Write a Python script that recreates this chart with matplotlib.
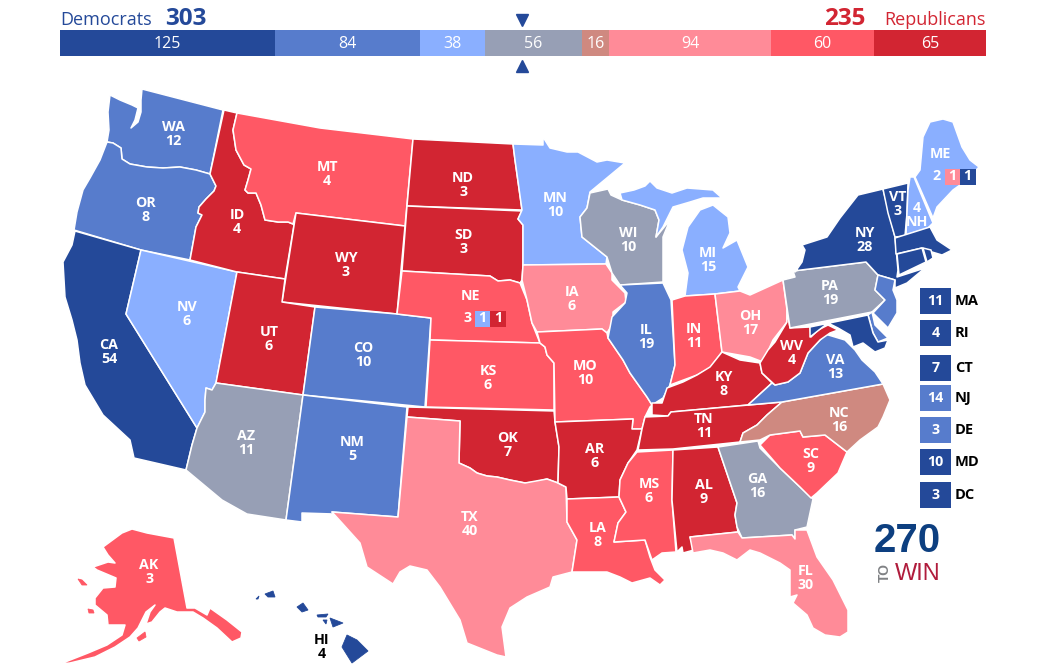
import matplotlib
matplotlib.use("Agg")
import matplotlib.pyplot as plt
from matplotlib.patches import Polygon, Rectangle

plt.rcParams['font.family'] = ['Open Sans', 'DejaVu Sans']

# ---- data ----
bar_values = [125, 84, 38, 56, 16, 94, 60, 65]
bar_ratings = ['safe_d', 'likely_d', 'lean_d', 'tossup', 'tilt_r', 'lean_r', 'likely_r', 'safe_r']
dem_total = 303
rep_total = 235
total_votes = 538

rating_colors = {'safe_d': '#244999', 'likely_d': '#577ccc', 'lean_d': '#8aafff', 'tossup': '#979fb5',
                 'tilt_r': '#cf8980', 'lean_r': '#ff8b98', 'likely_r': '#ff5865', 'safe_r': '#d22532'}

state_rating = {
 'WA':'likely_d','OR':'likely_d','CA':'safe_d','NV':'lean_d','ID':'safe_r','MT':'likely_r','WY':'safe_r','UT':'safe_r',
 'CO':'likely_d','AZ':'tossup','NM':'likely_d','ND':'safe_r','SD':'safe_r','NE':'likely_r','KS':'likely_r','OK':'safe_r',
 'TX':'lean_r','MN':'lean_d','IA':'lean_r','MO':'likely_r','AR':'safe_r','LA':'likely_r','WI':'tossup','IL':'likely_d',
 'MI':'lean_d','IN':'likely_r','OH':'lean_r','KY':'safe_r','TN':'safe_r','MS':'likely_r','AL':'safe_r','GA':'tossup',
 'FL':'lean_r','SC':'likely_r','NC':'tilt_r','VA':'likely_d','WV':'safe_r','PA':'tossup','NY':'safe_d','VT':'safe_d',
 'NH':'lean_d','ME':'lean_d','AK':'likely_r','HI':'safe_d','MD':'safe_d','DE':'likely_d','NJ':'likely_d','MA':'safe_d',
 'CT':'safe_d','RI':'safe_d'}

state_votes = {
 'WA':12,'OR':8,'CA':54,'NV':6,'ID':4,'MT':4,'WY':3,'UT':6,'CO':10,'AZ':11,'NM':5,'ND':3,'SD':3,'KS':6,'OK':7,'TX':40,
 'MN':10,'IA':6,'MO':10,'AR':6,'LA':8,'WI':10,'IL':19,'MI':15,'IN':11,'OH':17,'KY':8,'TN':11,'MS':6,'AL':9,'GA':16,
 'FL':30,'SC':9,'NC':16,'VA':13,'WV':4,'PA':19,'NY':28,'VT':3}

side_states = ['MA', 'RI', 'CT', 'NJ', 'DE', 'MD', 'DC']
side_votes = [11, 4, 7, 14, 3, 10, 3]
side_ratings = ['safe_d', 'safe_d', 'safe_d', 'likely_d', 'likely_d', 'safe_d', 'safe_d']

# state outlines (map geometry)
outlines = {
 'WA':[[(142,89),(223,110),(210,174),(196,170),(180,167),(163,168),(147,167),(130,164),(122,159),(121,148),(113,143),(107,142),(109,130),(108,112),(110,95),(120,100),(132,105),(138,108),(135,120),(131,128),(138,122),(141,112),(141,100)]],
 'OR':[[(107,142),(113,143),(121,148),(122,159),(130,164),(147,167),(163,168),(180,167),(196,170),(210,174),(216,186),(214,191),(206,199),(199,207),(198,213),(202,215),(196,227),(190,260),(141,250),(74,230),(77,212),(83,190),(90,178),(100,160)]],
 'CA':[[(75,231),(141,250),(126,314),(197,428),(192,445),(186,470),(134,458),(130,440),(103,415),(85,385),(80,363),(77,340),(72,320),(65,297),(63,262),(72,245)]],
 'NV':[[(141,250),(237,272),(216,383),(212,390),(206,388),(205,400),(205,412),(197,428),(126,314)]],
 'ID':[[(224,110),(237,113),(233,130),(236,150),(244,165),(251,169),(248,180),(245,190),(248,193),(256,193),(261,205),(265,220),(278,222),(288,222),(293,224),(296,213),(285,279),(237,272),(190,260),(196,227),(202,215),(198,213),(199,207),(206,199),(214,191),(216,186),(210,174)]],
 'MT':[[(237,113),(320,128),(413,139),(405,226),(296,213),(293,224),(288,222),(278,222),(265,220),(261,205),(256,193),(248,193),(245,190),(248,180),(251,169),(244,165),(236,150),(233,130)]],
 'WY':[[(296,213),(405,226),(397,314),(282,302)]],
 'UT':[[(237,272),(285,279),(282,302),(315,307),(303,395),(216,383)]],
 'CO':[[(315,307),(397,314),(431,318),(425,407),(303,395)]],
 'AZ':[[(216,383),(303,395),(286,520),(247,514),(222,500),(186,470),(192,445),(197,428),(205,412),(205,400),(206,388),(212,390)]],
 'NM':[[(303,395),(407,407),(398,517),(332,512),(334,514),(302,513),(302,522),(286,520)]],
 'ND':[[(413,139),(513,144),(515,160),(522,210),(407,206)]],
 'SD':[[(407,206),(522,211),(518,219),(523,225),(523,265),(522,280),(520,283),(510,280),(498,281),(490,276),(402,271)]],
 'NE':[[(402,271),(490,276),(498,281),(510,280),(520,283),(527,300),(532,323),(540,343),(430,340),(431,318),(397,314)]],
 'KS':[[(430,340),(540,343),(545,347),(547,355),(554,363),(554,410),(426,407)]],
 'OK':[[(408,407),(554,411),(555,422),(559,447),(558,483),(547,479),(535,482),(525,483),(510,480),(497,477),(487,476),(477,473),(470,468),(459,463),(460,421),(407,417)]],
 'TX':[[(407,417),(460,421),(459,463),(470,468),(477,473),(487,476),(497,477),(510,480),(525,483),(547,479),(558,483),(566,487),(567,522),(577,540),(572,572),(553,577),(550,587),(527,597),(510,608),(502,627),(506,657),(497,655),(467,643),(460,620),(440,587),(427,570),(410,566),(400,572),(393,584),(367,567),(360,543),(342,523),(332,512),(398,517)]],
 'MN':[[(513,144),(543,145),(543,137),(550,148),(567,152),(578,152),(597,162),(607,160),(625,163),(590,192),(587,208),(580,217),(582,237),(607,257),(606,264),(523,265),(523,225),(518,219),(522,210),(515,160)]],
 'IA':[[(523,265),(606,264),(612,273),(612,280),(625,293),(626,302),(613,312),(613,323),(607,333),(602,329),(537,332),(532,323),(527,300),(522,280)]],
 'MO':[[(537,332),(602,329),(607,333),(608,338),(623,360),(630,373),(647,397),(652,405),(650,407),(645,417),(642,429),(632,429),(633,419),(555,422),(554,363),(547,355),(545,347),(540,343)]],
 'AR':[[(555,422),(633,419),(632,429),(642,429),(637,450),(628,463),(620,480),(619,497),(567,499),(566,487),(558,483),(559,447)]],
 'LA':[[(567,499),(619,497),(626,512),(618,523),(614,542),(645,540),(650,557),(655,570),(665,580),(660,585),(650,578),(632,583),(620,577),(607,572),(577,572),(572,572),(577,540),(567,522)]],
 'WI':[[(590,193),(608,189),(611,195),(622,200),(640,205),(655,210),(659,220),(656,237),(670,220),(663,237),(663,282),(620,285),(612,273),(607,257),(582,237),(580,217),(587,208)]],
 'IL':[[(620,285),(663,283),(671,300),(675,365),(670,385),(663,398),(652,405),(647,397),(630,373),(623,360),(608,338),(612,317),(625,303),(627,293)]],
 'MI':[[(620,193),(634,190),(645,186),(650,181),(657,188),(672,193),(687,188),(713,190),(722,198),(703,198),(690,202),(673,207),(663,227),(656,237),(659,220),(655,210),(640,205),(622,200)],
       [(685,296),(688,273),(682,250),(688,227),(700,210),(713,205),(728,217),(730,233),(723,248),(737,240),(748,267),(738,287),(740,291),(715,294)]],
 'IN':[[(672,300),(685,296),(715,294),(722,352),(710,368),(697,375),(670,385),(675,365)]],
 'OH':[[(715,294),(740,291),(750,295),(783,280),(787,310),(787,322),(773,340),(763,362),(750,357),(722,352)]],
 'KY':[[(652,415),(652,403),(662,403),(667,388),(683,382),(697,375),(710,367),(722,352),(740,360),(760,363),(762,373),(772,383),(748,405),(671,412),(668,416)]],
 'TN':[[(638,450),(642,429),(645,417),(668,416),(671,412),(782,402),(767,415),(757,425),(743,433),(740,442),(673,449)]],
 'MS':[[(637,452),(673,450),(672,500),(676,552),(662,553),(652,560),(645,540),(614,542),(618,523),(626,512),(619,497),(620,480),(628,463)]],
 'AL':[[(673,450),(718,447),(737,503),(735,515),(738,532),(690,537),(694,550),(683,553),(682,547),(677,552),(672,500)]],
 'GA':[[(718,447),(758,441),(760,448),(780,468),(800,487),(813,499),(807,527),(795,530),(795,539),(792,535),(742,538),(737,527),(735,515),(737,503)]],
 'FL':[[(690,537),(738,532),(742,538),(792,535),(795,539),(795,530),(807,530),(817,557),(833,580),(848,610),(848,632),(840,637),(825,635),(813,628),(807,615),(793,603),(797,595),(790,597),(790,570),(780,563),(760,553),(750,550),(737,560),(723,553),(710,550),(693,553)]],
 'SC':[[(760,445),(770,435),(800,431),(803,437),(825,435),(847,452),(838,473),(817,493),(811,498),(800,487),(780,468)]],
 'NC':[[(740,442),(743,433),(757,425),(767,415),(782,402),(883,384),(890,400),(883,417),(878,427),(860,440),(847,452),(825,435),(803,437),(800,431),(770,435),(760,440)]],
 'VA':[[(748,405),(772,383),(775,385),(788,382),(800,373),(808,353),(820,340),(825,334),(845,340),(855,350),(862,360),(875,372),(883,384),(782,402)]],
 'WV':[[(787,310),(790,328),(810,327),(811,337),(818,330),(828,325),(838,330),(830,333),(820,340),(808,353),(800,373),(788,382),(775,385),(762,373),(760,363),(768,350),(775,342),(787,322)]],
 'PA':[[(783,280),(795,277),(793,271),(866,262),(878,275),(875,290),(885,300),(872,312),(790,328)]],
 'NY':[[(795,272),(802,262),(805,250),(802,245),(827,237),(840,218),(858,195),(883,189),(895,237),(898,270),(897,277),(925,268),(907,283),(895,288),(895,280),(878,275),(866,262),(793,271)]],
 'VT':[[(883,189),(908,183),(907,213),(905,236),(895,237),(888,213)]],
 'NH':[[(910,177),(914,177),(933,223),(928,228),(906,235),(908,190)]],
 'ME':[[(915,177),(920,170),(923,137),(930,122),(943,119),(953,122),(962,147),(970,160),(979,167),(967,180),(953,190),(937,207),(933,218)]],
 'MA':[[(895,238),(930,227),(937,240),(952,250),(942,255),(932,252),(922,248),(896,254)]],
 'CT':[[(897,254),(922,248),(926,262),(899,275)]],
 'RI':[[(923,248),(931,250),(933,258),(927,262)]],
 'NJ':[[(878,275),(895,280),(893,290),(897,300),(897,313),(888,328),(873,313),(885,300),(875,290)]],
 'DE':[[(868,315),(872,312),(875,325),(888,338),(878,342),(873,333)]],
 'MD':[[(810,327),(868,315),(873,333),(878,342),(888,340),(885,348),(875,352),(863,343),(853,347),(850,335),(838,328),(828,323),(810,337)]],
 'AK':[[(103,547),(122,533),(132,529),(147,533),(174,538),(187,608),(195,608),(207,615),(210,608),(227,620),(242,632),(241,638),(232,642),(217,628),(203,618),(193,612),(177,612),(165,608),(160,612),(152,622),(146,624),(150,612),(155,605),(146,612),(138,628),(130,637),(115,647),(95,657),(70,663),(60,664),(88,653),(107,645),(122,635),(125,625),(108,625),(107,615),(95,605),(95,598),(103,588),(115,587),(116,578),(97,570),(93,567),(108,562),(115,563),(108,555)]],
}
small_islands = {
 'AK':[[(78,579),(82,580),(87,585),(82,585)],[(137,638),(145,632),(146,637),(139,641)],[(88,609),(93,610),(94,613),(89,613)]],
 'HI':[[(347,635),(357,640),(368,651),(352,663),(342,647)],[(330,618),(343,623),(333,627)],[(317,615),(328,614),(326,617),(318,617)],[(323,620),(327,620),(326,624)],
       [(297,607),(303,603),(308,610),(302,612)],[(265,594),(273,591),(275,597),(268,597)],[(256,599),(259,596),(258,599)]],
}

# label anchors on the map
label_pos = {
 'WA':(173,127),'OR':(146,203),'CA':(109,345),'NV':(187,307),'ID':(237,215),'MT':(327,167),'WY':(346,258),'UT':(269,332),
 'CO':(363,348),'AZ':(246,436),'NM':(352,442),'ND':(463,178),'SD':(464,235),'KS':(488,371),'OK':(508,438),'TX':(470,517),
 'MN':(555,198),'IA':(572,292),'MO':(585,366),'AR':(595,449),'LA':(598,528),'WI':(628,233),'IL':(646,330),'MI':(708,253),
 'IN':(694,329),'OH':(750,316),'KY':(724,377),'TN':(704,419),'MS':(649,484),'AL':(704,485),'GA':(757,479),'FL':(806,571),
 'SC':(811,454),'NC':(839,413),'VA':(835,360),'WV':(792,346),'PA':(830,286),'NY':(865,233),'VT':(898,197)}

side_tops = [288, 320, 355, 385, 417, 449, 482]

fig = plt.figure(figsize=(10.5, 6.7), dpi=100)
ax = fig.add_axes([0, 0, 1, 1])
ax.set_xlim(0, 1050)
ax.set_ylim(670, 0)
ax.axis('off')

for st, parts in outlines.items():
    for pts in parts:
        ax.add_patch(Polygon(pts, closed=True, facecolor=rating_colors[state_rating[st]],
                             edgecolor='white', linewidth=1.1, joinstyle='round', zorder=2))
for st, parts in small_islands.items():
    for pts in parts:
        ax.add_patch(Polygon(pts, closed=True, facecolor=rating_colors[state_rating[st]],
                             edgecolor=rating_colors[state_rating[st]], linewidth=0.6, zorder=2))

LBL = dict(color='white', fontsize=10.3, fontweight='bold', ha='center', va='center', zorder=5)
for st, (x, y) in label_pos.items():
    ax.text(x, y, st, **LBL)
    ax.text(x, y + 14, str(state_votes[st]), **LBL)

# Nebraska and Maine split votes
ax.text(470, 296, 'NE', **LBL)
ax.text(467, 318, '3', **LBL)
ax.add_patch(Rectangle((475, 311), 15, 16, facecolor=rating_colors['lean_d'], zorder=4))
ax.add_patch(Rectangle((490, 311), 16, 16, facecolor=rating_colors['safe_r'], zorder=4))
ax.text(482.5, 318, '1', **LBL)
ax.text(498, 318, '1', **LBL)

ax.text(940, 154, 'ME', **LBL)
ax.text(937, 176, '2', **LBL)
ax.add_patch(Rectangle((945, 169), 15, 16, facecolor=rating_colors['lean_r'], zorder=4))
ax.add_patch(Rectangle((960, 169), 16, 16, facecolor=rating_colors['safe_d'], zorder=4))
ax.text(952.5, 176.5, '1', **LBL)
ax.text(967.5, 176.5, '1', **LBL)

ax.text(917, 208, '4', **LBL)
ax.text(917, 222, 'NH', **LBL)
ax.text(149, 565, 'AK', **LBL)
ax.text(149, 579, '3', **LBL)
LBLK = dict(LBL, color='black')
ax.text(322, 640, 'HI', **LBLK)
ax.text(322, 654, '4', **LBLK)

# side boxes for small states
for st, v, r, top in zip(side_states, side_votes, side_ratings, side_tops):
    ax.add_patch(Rectangle((920, top), 31, 26, facecolor=rating_colors[r], zorder=4))
    ax.text(935.5, top + 13, str(v), **LBL)
    ax.text(955, top + 13, st, color='black', fontsize=10.5, fontweight='bold', ha='left', va='center')

# headers
ax.text(60, 25, 'Democrats', color=rating_colors['safe_d'], fontsize=13, ha='left', va='baseline')
ax.text(165, 25, str(dem_total), color=rating_colors['safe_d'], fontsize=17.5, fontweight='bold', ha='left', va='baseline')
ax.text(986, 25, 'Republicans', color=rating_colors['safe_r'], fontsize=13, ha='right', va='baseline')
ax.text(865, 25, str(rep_total), color=rating_colors['safe_r'], fontsize=17.5, fontweight='bold', ha='right', va='baseline')

# logo
ax.text(874, 552, '270', color='#0d3f80', fontsize=29, fontweight='bold', family=['Liberation Sans'],
        ha='left', va='baseline')
ax.text(895, 580, 'WIN', color='#b01c3c', fontsize=17, family=['Liberation Sans'],
        ha='left', va='baseline')
ax.text(885, 572, 'TO', color='#808285', fontsize=10, fontweight='bold', family=['Liberation Sans'],
        rotation=90, ha='center', va='center')

# top seat bar
bax = fig.add_axes([60 / 1050, (670 - 56) / 670, 926 / 1050, 26 / 670])
bax.set_xlim(0, total_votes)
bax.set_ylim(0, 1)
bax.axis('off')
left = 0
for v, r in zip(bar_values, bar_ratings):
    bax.barh(0.5, v, left=left, height=1, color=rating_colors[r], linewidth=0)
    bax.text(left + v / 2, 0.47, str(v), color='white', fontsize=11.5, ha='center', va='center')
    left += v

# 270 markers
mid = total_votes / 2
x_mid = 60 + mid / total_votes * 926
ax.plot([x_mid - 1], [20], marker='v', ms=9, color=rating_colors['safe_d'], ls='none', zorder=6)
ax.plot([x_mid - 1], [66], marker='^', ms=9, color=rating_colors['safe_d'], ls='none', zorder=6)

fig.savefig('out.png', dpi=100, facecolor='white')
